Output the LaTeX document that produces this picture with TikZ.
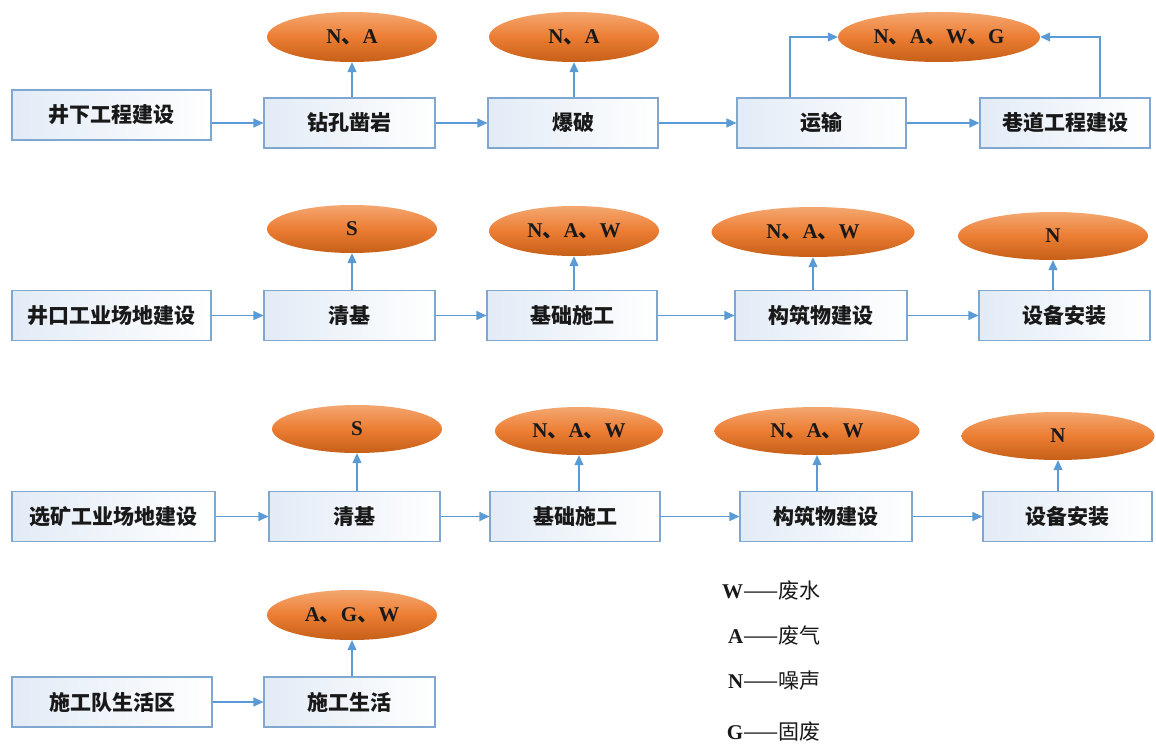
\documentclass[tikz,border=0pt]{standalone}
\usepackage{fontspec}
\setmainfont{Liberation Serif}
\newfontfamily\cjk{Noto Sans CJK SC}
\usetikzlibrary{shapes.geometric,arrows.meta}
\definecolor{boxline}{HTML}{7FA7D0}
\definecolor{boxfill}{HTML}{E2EBF6}
\definecolor{arrcol}{HTML}{5B9BD5}
\definecolor{ortop}{HTML}{F4A770}
\definecolor{ormid}{HTML}{EC7D33}
\definecolor{orbot}{HTML}{C65F18}
\newcommand{\dn}{{\cjk 、}}
\tikzset{
  stepbox/.style={draw=boxline, line width=1.1pt, left color=boxfill, right color=white,
    minimum width=170pt, minimum height=50pt, inner sep=0pt,
    font=\cjk\bfseries\fontsize{21pt}{21pt}\selectfont, text=black!90},
  emis/.style={ellipse, top color=ortop, bottom color=orbot, middle color=ormid,
    minimum width=170pt, minimum height=50pt, inner sep=0pt,
    font=\bfseries\fontsize{21pt}{21pt}\selectfont, text=black!90},
  arr/.style={draw=arrcol, line width=1.1pt, -{Triangle[length=10pt,width=9pt]}},
  legend/.style={anchor=west, inner sep=0pt, font=\fontsize{21pt}{21pt}\selectfont, text=black!90}
}
\begin{document}
\begin{tikzpicture}[x=1pt,y=-1pt]
\useasboundingbox[fill=white] (0,0) rectangle (1156,746);
% ---------- Row 1 ----------
\node[stepbox, minimum width=199pt] (b11) at (111.5,115) {井下工程建设};
\node[stepbox, minimum width=171pt] (b12) at (349.5,123) {钻孔凿岩};
\node[stepbox] (b13) at (573,123) {爆破};
\node[stepbox, minimum width=169pt] (b14) at (821.5,123) {运输};
\node[stepbox] (b15) at (1065,123) {巷道工程建设};
\node[emis] (e12) at (352,37) {N\dn A};
\node[emis] (e13) at (574,37) {N\dn A};
\node[emis, minimum width=202pt] (e14) at (939,37) {N\dn A\dn W\dn G};
\draw[arr] (b11.east |- b12.west) -- (b12.west);
\draw[arr] (b12.east) -- (b13.west);
\draw[arr] (b13.east) -- (b14.west);
\draw[arr] (b14.east) -- (b15.west);
\draw[arr] (e12.south |- b12.north) -- (e12.south);
\draw[arr] (e13.south |- b13.north) -- (e13.south);
\coordinate (c14) at (790,123);
\coordinate (c15) at (1100,123);
\draw[arr] (c14 |- b14.north) |- (e14.west);
\draw[arr] (c15 |- b15.north) |- (e14.east);
% ---------- Row 2 ----------
\node[stepbox, minimum width=199pt] (b21) at (111.5,315.5) {井口工业场地建设};
\node[stepbox, minimum width=171pt] (b22) at (349.5,315.5) {清基};
\node[stepbox] (b23) at (572,315.5) {基础施工};
\node[stepbox, minimum width=172pt] (b24) at (821,315.5) {构筑物建设};
\node[stepbox, minimum width=171pt] (b25) at (1064.5,315.5) {设备安装};
\node[emis, minimum height=48pt] (e22) at (352,229) {S};
\node[emis] (e23) at (574,231) {N\dn A\dn W};
\node[emis, minimum width=203pt] (e24) at (813,232) {N\dn A\dn W};
\node[emis, minimum width=190pt, minimum height=48pt] (e25) at (1053,236) {N};
\draw[arr] (b21.east) -- (b22.west);
\draw[arr] (b22.east) -- (b23.west);
\draw[arr] (b23.east) -- (b24.west);
\draw[arr] (b24.east) -- (b25.west);
\draw[arr] (e22.south |- b22.north) -- (e22.south);
\draw[arr] (e23.south |- b23.north) -- (e23.south);
\draw[arr] (e24.south |- b24.north) -- (e24.south);
\draw[arr] (e25.south |- b25.north) -- (e25.south);
% ---------- Row 3 ----------
\node[stepbox, minimum width=203pt] (b31) at (113.5,516.5) {选矿工业场地建设};
\node[stepbox, minimum width=171pt] (b32) at (354.5,516.5) {清基};
\node[stepbox] (b33) at (575,516.5) {基础施工};
\node[stepbox, minimum width=172pt] (b34) at (826,516.5) {构筑物建设};
\node[stepbox, minimum width=169pt] (b35) at (1067.5,516.5) {设备安装};
\node[emis, minimum height=48pt] (e32) at (357,429) {S};
\node[emis, minimum width=168pt, minimum height=48pt] (e33) at (579,431) {N\dn A\dn W};
\node[emis, minimum width=205pt, minimum height=48pt] (e34) at (817,431) {N\dn A\dn W};
\node[emis, minimum width=193pt, minimum height=48pt] (e35) at (1058,436) {N};
\draw[arr] (b31.east) -- (b32.west);
\draw[arr] (b32.east) -- (b33.west);
\draw[arr] (b33.east) -- (b34.west);
\draw[arr] (b34.east) -- (b35.west);
\draw[arr] (e32.south |- b32.north) -- (e32.south);
\draw[arr] (e33.south |- b33.north) -- (e33.south);
\draw[arr] (e34.south |- b34.north) -- (e34.south);
\draw[arr] (e35.south |- b35.north) -- (e35.south);
% ---------- Row 4 ----------
\node[stepbox, minimum width=200pt] (b41) at (112,702) {施工队生活区};
\node[stepbox, minimum width=171pt] (b42) at (349.5,702) {施工生活};
\node[emis] (e42) at (352,615) {A\dn G\dn W};
\draw[arr] (b41.east) -- (b42.west);
\draw[arr] (e42.south |- b42.north) -- (e42.south);
% ---------- Legend ----------
\node[legend] (lw) at (722,591) {\makebox[21pt][r]{\bfseries W}{\cjk ——废水}};
\node[legend] (la) at (722,636) {\makebox[21pt][r]{\bfseries A}{\cjk ——废气}};
\node[legend] (ln) at (722,681) {\makebox[21pt][r]{\bfseries N}{\cjk ——噪声}};
\node[legend] (lg) at (722,732) {\makebox[21pt][r]{\bfseries G}{\cjk ——固废}};
\end{tikzpicture}
\end{document}
